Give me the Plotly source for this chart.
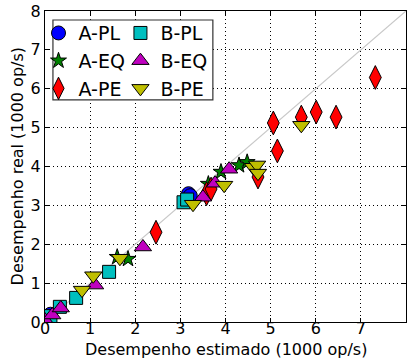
import plotly.graph_objects as go

# ---- data (1000 op/s) ----
a_pl_x = [0.05, 0.12, 3.18, 3.22]
a_pl_y = [0.08, 0.20, 3.30, 3.25]

a_eq_x = [0.10, 1.60, 1.84, 3.62, 3.90, 4.30, 4.48]
a_eq_y = [0.10, 1.67, 1.62, 3.55, 3.86, 4.03, 4.11]

a_pe_x = [2.46, 3.58, 3.68, 4.72, 5.06, 5.15, 5.68, 6.01, 6.45, 7.32]
a_pe_y = [2.31, 3.30, 3.42, 3.73, 5.12, 4.40, 5.27, 5.40, 5.27, 6.29]

b_pl_x = [0.12, 0.33, 0.69, 1.42, 3.07, 3.15]
b_pl_y = [0.15, 0.39, 0.62, 1.29, 3.08, 3.15]

b_eq_x = [0.00, 0.16, 0.35, 1.11, 2.17, 3.50, 3.77, 4.08]
b_eq_y = [0.05, 0.18, 0.36, 0.95, 1.93, 3.21, 3.57, 3.93]

b_pe_x = [0.82, 1.07, 1.66, 3.28, 3.97, 4.61, 4.70, 4.72, 5.68]
b_pe_y = [0.82, 1.19, 1.64, 3.03, 3.52, 3.98, 4.04, 3.83, 5.06]

diag = [0, 8]
ticks = [0, 1, 2, 3, 4, 5, 6, 7, 8]

FONT = "DejaVu Sans"

fig = go.Figure()
fig.add_trace(go.Scatter(x=diag, y=diag, mode="lines",
                         line=dict(color="#c8c8c8", width=1.2),
                         showlegend=False, hoverinfo="skip"))

series = [
    ("A-PL", a_pl_x, a_pl_y, "circle", "#0000ff", 14, "legend"),
    ("A-EQ", a_eq_x, a_eq_y, "star", "#008000", 12, "legend"),
    ("A-PE", a_pe_x, a_pe_y, "diamond-tall", "#ff0000", 17, "legend"),
    ("B-PL", b_pl_x, b_pl_y, "square", "#00bfbf", 13, "legend2"),
    ("B-EQ", b_eq_x, b_eq_y, "triangle-up", "#bf00bf", 15, "legend2"),
    ("B-PE", b_pe_x, b_pe_y, "triangle-down", "#bfbf00", 15, "legend2"),
]
for name, xs, ys, sym, col, sz, lg in series:
    fig.add_trace(go.Scatter(
        x=xs, y=ys, mode="markers", name=name, legend=lg,
        marker=dict(symbol=sym, color=col, size=sz,
                    line=dict(color="black", width=1)),
    ))

axis_common = dict(
    range=[0, 8], tickvals=ticks, showgrid=True,
    gridcolor="black", griddash="1px,3px", gridwidth=1,
    showline=True, linecolor="black", linewidth=1, mirror="ticks",
    ticks="inside", ticklen=4, tickcolor="black", automargin=False,
    zeroline=False, tickfont=dict(size=16, family=FONT, color="black"),
)

fig.update_layout(
    width=411, height=362,
    margin=dict(l=45, r=5, t=11, b=40),
    paper_bgcolor="white", plot_bgcolor="white",
    font=dict(family=FONT, color="black"),
    xaxis=dict(axis_common, ticklabelstandoff=-8),
    yaxis=dict(axis_common),
    annotations=[
        dict(text="Desempenho estimado (1000 op/s)", xref="paper", yref="paper",
             x=0.5, y=-0.09, xanchor="center", yanchor="middle",
             showarrow=False, font=dict(size=16, family=FONT)),
        dict(text="Desempenho real (1000 op/s)", xref="paper", yref="paper",
             x=-0.075, y=0.5, xanchor="center", yanchor="middle", textangle=-90,
             showarrow=False, font=dict(size=16, family=FONT)),
    ],
    legend=dict(x=-0.018, y=0.99, xanchor="left", yanchor="top",
                bgcolor="rgba(0,0,0,0)", font=dict(size=19, family=FONT),
                tracegroupgap=0, itemsizing="trace"),
    legend2=dict(x=0.209, y=0.99, xanchor="left", yanchor="top",
                 bgcolor="rgba(0,0,0,0)", font=dict(size=19, family=FONT),
                 tracegroupgap=0, itemsizing="trace"),
    shapes=[dict(type="rect", xref="paper", yref="paper",
                 x0=0.022, x1=0.465, y0=0.714, y1=0.971,
                 line=dict(color="#333333", width=1.2), fillcolor="white",
                 layer="above")],
    showlegend=True,
)

fig.write_html("out.html",
               config={"displayModeBar": False},
               post_script="document.body.style.margin='0';"
                           "document.body.style.overflow='hidden';")
